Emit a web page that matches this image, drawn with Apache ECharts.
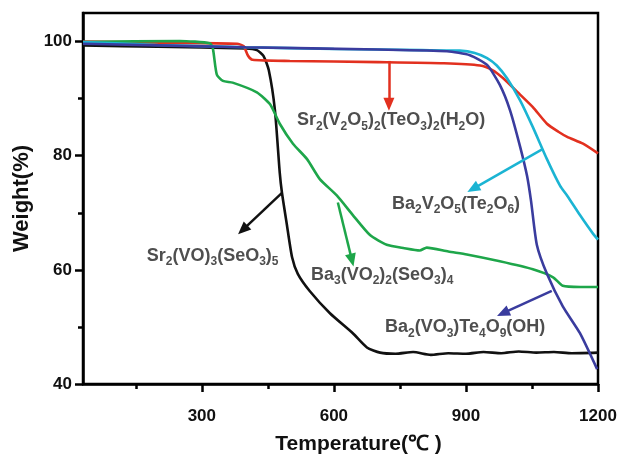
<!DOCTYPE html>
<html><head><meta charset="utf-8">
<script src="https://cdn.jsdelivr.net/npm/echarts@6/dist/echarts.min.js"></script>
<style>html,body{margin:0;padding:0;background:#fff}#c{width:622px;height:460px}</style>
</head><body><div id="c"></div>
<script>
// ---- data ----
const xTicks = [300, 600, 900, 1200];
const xMinorTicks = [150, 450, 750, 1050];
const yTicks = [40, 60, 80, 100];
const yMinorTicks = [50, 70, 90];

const blackT = [30,200,400,425,440,452,466,477,482,493,505,518,545,591,643,675,705,740,780,820,860,900,940,980,1020,1060,1100,1140,1200];
const blackW = [99.3,99.1,98.8,98.5,97.5,95,88,77,73.5,68,62.2,59.3,56.3,52.4,48.9,46.4,45.5,45.3,45.6,45.1,45.4,45.3,45.6,45.4,45.7,45.5,45.6,45.4,45.5];

const redT = [30,200,380,395,405,415,500,700,850,932,960,984,1023,1052,1084,1110,1130,1166,1200];
const redW = [100,99.8,99.6,99.2,97.5,96.8,96.6,96.4,96.2,95.8,95.0,93.6,90.7,88.5,85.6,84.2,83.3,82.1,80.4];

const greenT = [30,250,318,325,334,348,370,425,455,477,507,539,568,607,643,682,720,760,795,811,860,902,977,1052,1098,1120,1160,1200];
const greenW = [99.9,100.1,99.7,98.8,94.2,93.1,92.8,91.1,89.0,85.6,82.1,79.4,75.9,73.0,69.6,66.1,64.4,63.8,63.4,63.9,63.2,62.7,61.5,60.1,58.7,57.2,57.0,57.0];

const cyanT = [30,200,400,600,800,886,920,948,970,993,1023,1052,1084,1114,1130,1159,1189,1200];
const cyanW = [99.9,99.4,99.0,98.7,98.5,98.4,98.0,97.1,95.8,93.6,89.7,85.0,79.4,74.7,73.0,69.6,66.3,65.3];

const navyT = [30,400,700,857,909,948,977,1000,1023,1039,1048,1061,1084,1120,1159,1198];
const navyW = [99.6,99.0,98.6,98.3,97.6,95.9,92.4,88.0,81.6,76.4,72.0,64.4,59.3,53.6,48.9,42.6];

// compound labels (rich text: n = normal, s = subscript)
const labelTexts = [
  '{n|Sr}{s|2}{n|(V}{s|2}{n|O}{s|5}{n|)}{s|2}{n|(TeO}{s|3}{n|)}{s|2}{n|(H}{s|2}{n|O)}',
  '{n|Ba}{s|2}{n|V}{s|2}{n|O}{s|5}{n|(Te}{s|2}{n|O}{s|6}{n|)}',
  '{n|Sr}{s|2}{n|(VO)}{s|3}{n|(SeO}{s|3}{n|)}{s|5}',
  '{n|Ba}{s|3}{n|(VO}{s|2}{n|)}{s|2}{n|(SeO}{s|3}{n|)}{s|4}',
  '{n|Ba}{s|2}{n|(VO}{s|3}{n|)Te}{s|4}{n|O}{s|9}{n|(OH)}'
];
// label anchors (left edge, vertical middle) in data coordinates
const labelT = [516, 732, 175, 548, 716];
const labelW = [86.2, 71.6, 62.5, 59.1, 49.9];
// arrows: start and end in data coordinates
const arrowT0 = [725, 1073, 482, 609, 1095];
const arrowW0 = [96.6, 81.1, 73.5, 71.8, 56.3];
const arrowT1 = [725, 916, 393, 641, 984];
const arrowW1 = [89.0, 74.2, 67.0, 61.7, 52.4];

const colors = {black:'#111111', red:'#e2301f', green:'#1ea64a', cyan:'#1bb4d3', navy:'#3a3c9e'};
const arrowColors = [colors.red, colors.cyan, colors.black, colors.green, colors.navy];

const zip = (a, b) => a.map((v, i) => [v, b[i]]);
const lineSeries = (name, t, w, c) => ({
  name, type: 'line', data: zip(t, w), showSymbol: false, symbol: 'none',
  smooth: 0.2,
  lineStyle: { color: c, width: 2.6 }, itemStyle: { color: c }, z: 3
});

const FONT = '"Liberation Sans", Arial, sans-serif';
const chart = echarts.init(document.getElementById('c'), null, { renderer: 'canvas' });

const axisCommon = {
  type: 'value',
  axisLine: { show: true, lineStyle: { color: '#000', width: 2.5 } },
  splitLine: { show: false },
};

chart.setOption({
  backgroundColor: '#fff',
  animation: false,
  grid: { left: 83, right: 24, top: 13, bottom: 68, show: true, borderColor: '#000', borderWidth: 2.5, backgroundColor: 'transparent' },
  xAxis: [
    Object.assign({}, axisCommon, {
      min: 30, max: 1200,
      name: 'Temperature(\u2103 )', nameLocation: 'middle', nameGap: 50,
      nameTextStyle: { fontFamily: FONT, fontWeight: 'bold', fontSize: 21, color: '#111', padding: [0, 0, 0, 36] },
      axisTick: { show: true, inside: false, length: 8, customValues: xTicks, lineStyle: { color: '#000', width: 2.5 } },
      axisLabel: { customValues: xTicks, margin: 24, formatter: v => String(v), fontFamily: FONT, fontWeight: 'bold', fontSize: 17, color: '#111' }
    }),
    Object.assign({}, axisCommon, {
      min: 30, max: 1200, position: 'bottom',
      axisLine: { show: false },
      axisTick: { show: true, inside: false, length: 5, customValues: xMinorTicks, lineStyle: { color: '#000', width: 2.5 } },
      axisLabel: { show: false }
    })
  ],
  yAxis: [
    Object.assign({}, axisCommon, {
      min: 40, max: 105,
      name: 'Weight(%)', nameLocation: 'middle', nameGap: 47, nameRotate: 90,
      nameTextStyle: { fontFamily: FONT, fontWeight: 'bold', fontSize: 22, color: '#111' },
      axisTick: { show: true, inside: false, length: 8, customValues: yTicks, lineStyle: { color: '#000', width: 2.5 } },
      axisLabel: { customValues: yTicks, margin: 11, formatter: v => String(v), fontFamily: FONT, fontWeight: 'bold', fontSize: 17, color: '#111' }
    }),
    Object.assign({}, axisCommon, {
      min: 40, max: 105, position: 'left',
      axisLine: { show: false },
      axisTick: { show: true, inside: false, length: 5, customValues: yMinorTicks, lineStyle: { color: '#000', width: 2.5 } },
      axisLabel: { show: false }
    })
  ],
  series: [
    lineSeries('Sr2(VO)3(SeO3)5', blackT, blackW, colors.black),
    lineSeries('Sr2(V2O5)2(TeO3)2(H2O)', redT, redW, colors.red),
    lineSeries('Ba3(VO2)2(SeO3)4', greenT, greenW, colors.green),
    lineSeries('Ba2V2O5(Te2O6)', cyanT, cyanW, colors.cyan),
    lineSeries('Ba2(VO3)Te4O9(OH)', navyT, navyW, colors.navy),
    {
      name: 'labels', type: 'scatter', symbolSize: 0, z: 5, silent: true,
      data: labelTexts.map((txt, i) => ({ value: [labelT[i], labelW[i]], txt })),
      label: {
        show: true, position: 'right', distance: 0,
        formatter: p => p.data.txt,
        rich: {
          n: { fontFamily: FONT, fontWeight: 'bold', fontSize: 18, color: '#222', lineHeight: 24 },
          s: { fontFamily: FONT, fontWeight: 'bold', fontSize: 12, color: '#222', lineHeight: 14, verticalAlign: 'bottom' }
        }
      },
      markLine: {
        silent: true, symbol: ['none', 'triangle'], symbolSize: [11, 13], precision: 4,
        label: { show: false },
        emphasis: { disabled: true },
        data: arrowT0.map((t, i) => [
          { coord: [t, arrowW0[i]], lineStyle: { color: arrowColors[i], width: 2.5, type: 'solid' }, itemStyle: { color: arrowColors[i] } },
          { coord: [arrowT1[i], arrowW1[i]] }
        ])
      }
    }
  ]
});
</script>
</body></html>
